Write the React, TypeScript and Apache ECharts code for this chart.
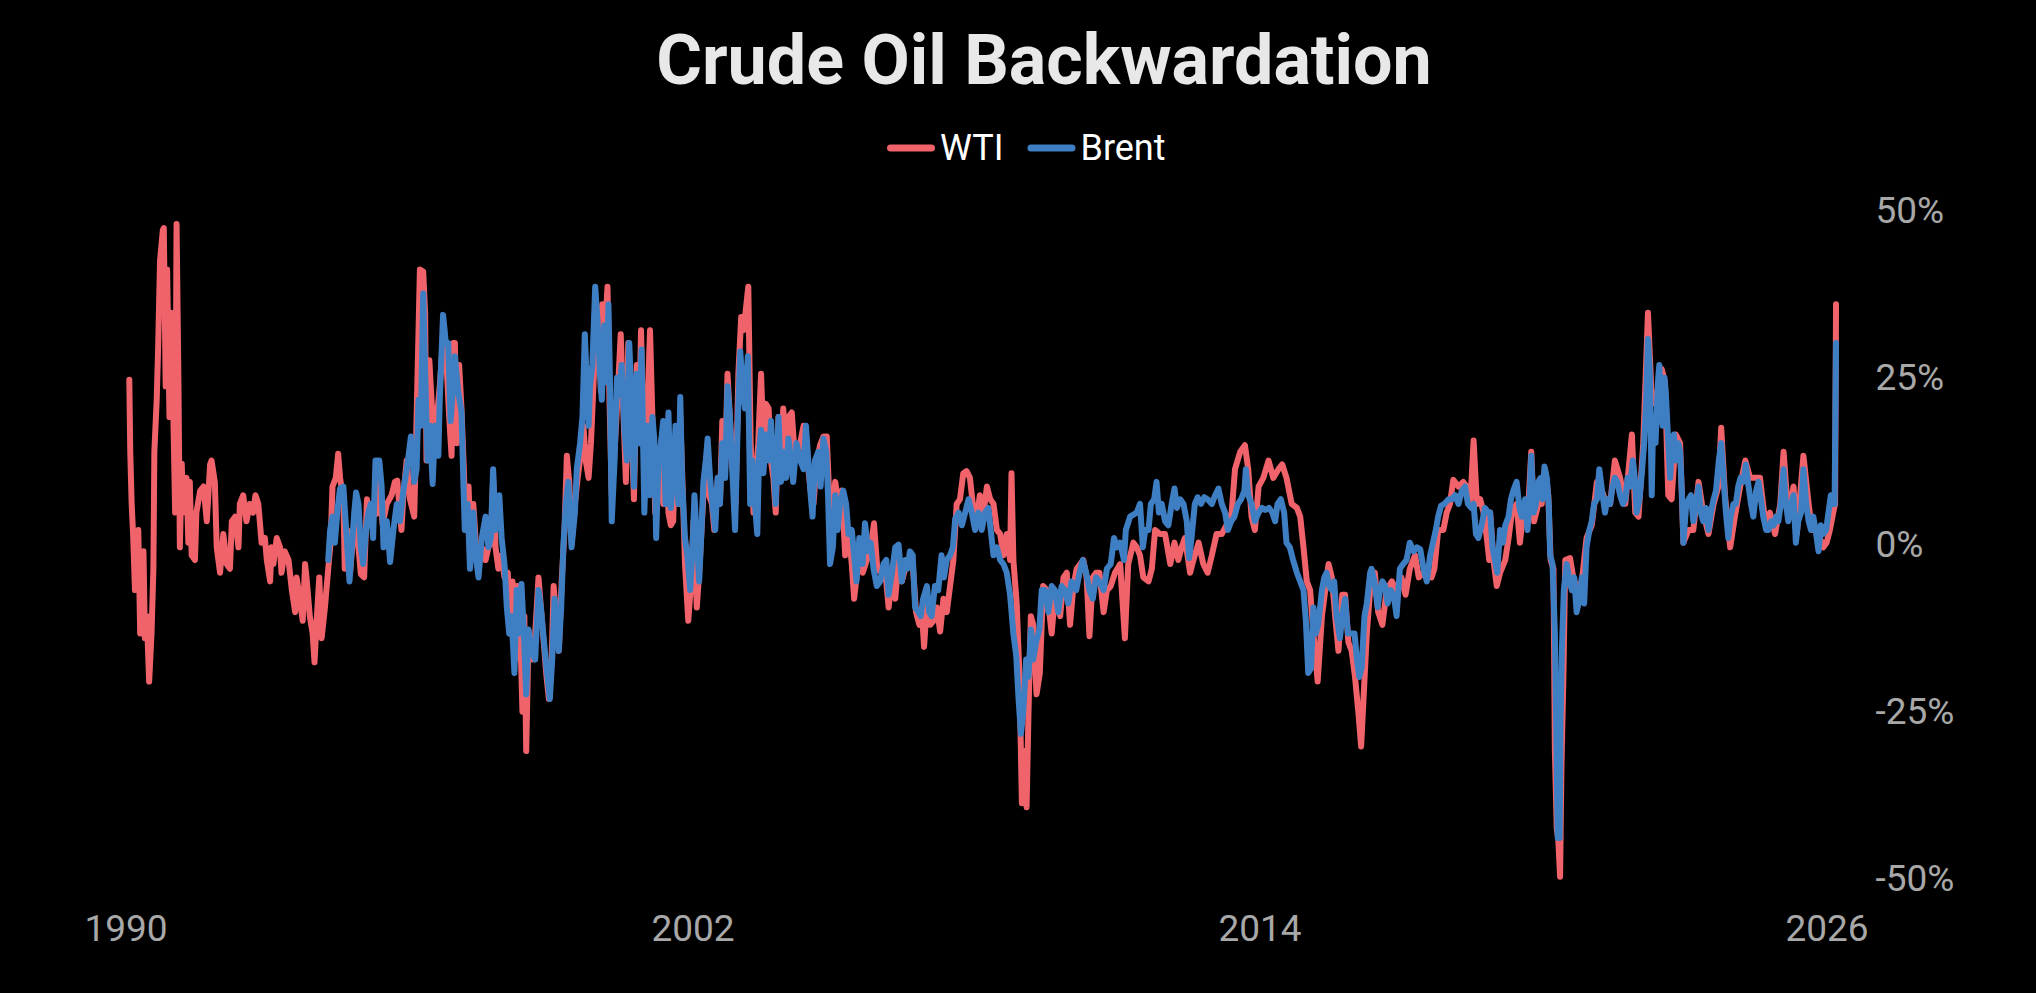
import React, { useEffect, useRef } from "react";
import * as echarts from "echarts";

const TITLE = "Crude Oil Backwardation";
const WTI_NAME = "WTI";
const BRENT_NAME = "Brent";
const X_TICK_YEARS = [1990, 2002, 2014, 2026];
const Y_MIN = -50;
const Y_MAX = 50;
const Y_STEP = 25;
const RED = "#F0636B";
const BLUE = "#3E7FC4";

// [decimal year, backwardation %]
const wti1990_1996: [number, number][] = [
  [1990.07,24.6],[1990.09,13.8],[1990.12,6.0],[1990.15,1.5],[1990.19,-6.9],[1990.26,2.1],[1990.30,-13.4],[1990.37,-1.1],[1990.40,-14.1],[1990.44,-10.8],[1990.49,-20.6],[1990.54,-13.4],[1990.58,-3.7],[1990.60,13.8],[1990.65,21.6],[1990.68,29.4],[1990.72,42.4],[1990.78,47.0],[1990.80,47.3],[1990.84,23.6],[1990.87,41.1],[1990.92,19.0],[1990.95,34.6],[1990.99,23.6],[1991.04,4.7],[1991.07,47.9],[1991.11,24.2],[1991.14,-0.5],[1991.18,12.0],[1991.21,4.7],[1991.28,9.9],[1991.32,0.2],[1991.35,9.3],[1991.39,-1.7],[1991.46,-2.4],[1991.49,4.7],[1991.57,8.0],[1991.64,8.6],[1991.71,3.4],[1991.78,11.9],[1991.81,12.5],[1991.88,9.3],[1991.92,-0.5],[1991.99,-4.3],[1992.06,1.5],[1992.13,-3.0],[1992.20,-3.7],[1992.24,3.4],[1992.31,4.1],[1992.38,-0.5],[1992.41,6.0],[1992.48,7.3],[1992.55,3.4],[1992.62,6.0],[1992.69,4.7],[1992.74,7.3],[1992.80,6.0],[1992.87,0.2],[1992.94,0.9],[1992.98,-2.4],[1993.05,-5.6],[1993.08,-0.5],[1993.12,-3.0],[1993.19,0.9],[1993.26,-0.5],[1993.29,-4.3],[1993.36,-1.1],[1993.44,-2.4],[1993.51,-6.9],[1993.58,-10.2],[1993.61,-5.0],[1993.68,-8.2],[1993.74,-11.5],[1993.79,-3.0],[1993.82,-5.0],[1993.89,-10.8],[1993.95,-13.4],[1993.99,-17.7],[1994.03,-12.1],[1994.09,-5.0],[1994.14,-14.1],[1994.21,-9.5],[1994.28,-3.7],[1994.33,0.2],[1994.37,8.6],[1994.44,9.9],[1994.49,13.5],[1994.53,9.9],[1994.60,6.7],[1994.63,-3.7],[1994.70,2.0],[1994.74,-4.5],[1994.83,3.0],[1994.90,1.0],[1994.97,-4.5],[1995.04,-5.0],[1995.10,6.7],[1995.15,3.4],[1995.23,6.0],[1995.30,4.5],[1995.36,10.0],[1995.43,3.0],[1995.52,6.0],[1995.62,7.3],[1995.69,9.3],[1995.74,9.5],[1995.83,2.1],[1995.87,7.3],[1995.94,12.5],[1996.01,6.7],[1996.10,4.1],[1996.15,19.0],[1996.22,41.1],[1996.29,40.8],[1996.33,34.6],[1996.36,12.5],[1996.42,27.5],[1996.47,21.0],[1996.51,16.4],[1996.58,19.0],[1996.64,23.6],[1996.71,30.7],[1996.77,28.8],[1996.84,19.0],[1996.89,13.2],[1996.93,30.1],
];
const wti1997_2004: [number, number][] = [
  [1996.96,30.1],[1997.00,15.1],[1997.05,26.8],[1997.10,20.3],[1997.15,11.2],[1997.19,2.1],[1997.25,8.6],[1997.30,-1.7],[1997.35,6.0],[1997.41,-0.5],[1997.46,-3.7],[1997.53,-0.5],[1997.61,-2.4],[1997.67,-0.5],[1997.72,0.2],[1997.77,9.9],[1997.82,-0.5],[1997.88,-3.7],[1997.95,-1.7],[1998.01,-5.0],[1998.08,-4.3],[1998.13,-13.4],[1998.18,-5.6],[1998.23,-17.3],[1998.28,-6.3],[1998.34,-12.1],[1998.39,-25.1],[1998.43,-10.8],[1998.47,-31.0],[1998.52,-13.4],[1998.59,-17.3],[1998.66,-13.4],[1998.73,-5.0],[1998.78,-9.5],[1998.84,-14.7],[1998.90,-19.9],[1998.95,-23.2],[1999.01,-16.7],[1999.05,-6.3],[1999.12,-12.8],[1999.16,-16.0],[1999.22,-5.6],[1999.28,2.1],[1999.33,13.2],[1999.38,9.3],[1999.43,0.2],[1999.50,6.0],[1999.56,9.9],[1999.63,13.8],[1999.68,17.7],[1999.73,12.5],[1999.79,9.9],[1999.84,15.1],[1999.88,21.6],[1999.93,30.1],[2000.00,35.3],[2000.05,22.9],[2000.08,35.9],[2000.14,32.0],[2000.19,38.5],[2000.23,22.3],[2000.28,7.3],[2000.35,15.1],[2000.41,22.9],[2000.47,31.4],[2000.53,19.0],[2000.58,9.3],[2000.63,30.1],[2000.69,19.0],[2000.75,6.7],[2000.81,26.8],[2000.86,17.7],[2000.90,32.0],[2000.95,15.1],[2001.00,11.2],[2001.06,25.5],[2001.09,32.0],[2001.14,19.0],[2001.20,4.7],[2001.25,12.5],[2001.30,13.8],[2001.37,6.0],[2001.42,17.7],[2001.48,4.7],[2001.53,2.8],[2001.58,3.4],[2001.63,15.1],[2001.69,6.0],[2001.73,19.0],[2001.78,8.6],[2001.83,-3.0],[2001.90,-11.5],[2001.96,-5.6],[2002.01,3.4],[2002.08,-9.5],[2002.13,-4.3],[2002.18,2.1],[2002.24,9.9],[2002.29,13.2],[2002.34,7.3],[2002.40,6.0],[2002.45,2.1],[2002.52,9.3],[2002.57,6.0],[2002.62,18.4],[2002.68,11.2],[2002.73,25.5],[2002.79,17.7],[2002.85,9.9],[2002.90,6.0],[2002.96,25.5],[2003.02,34.0],[2003.07,32.0],[2003.13,35.9],[2003.17,38.5],[2003.22,15.1],[2003.28,4.7],[2003.33,9.9],[2003.38,15.1],[2003.44,25.5],[2003.49,15.1],[2003.54,21.0],[2003.60,20.3],[2003.65,12.5],[2003.70,9.9],[2003.75,4.7],[2003.81,19.0],[2003.86,12.5],[2003.91,20.3],[2003.97,12.5],[2004.02,19.0],[2004.09,19.7],[2004.16,12.5],[2004.23,13.8],
];
const wti2004_2011: [number, number][] = [
  [2004.34,17.7],[2004.39,15.1],[2004.44,11.2],[2004.49,8.0],[2004.55,6.0],[2004.62,12.5],[2004.69,14.8],[2004.76,16.1],[2004.83,16.1],[2004.89,6.0],[2004.94,4.7],[2005.01,9.3],[2005.08,6.0],[2005.15,8.0],[2005.22,-1.7],[2005.29,2.1],[2005.36,-3.0],[2005.41,-8.2],[2005.46,-5.0],[2005.52,-1.7],[2005.59,-4.3],[2005.68,-2.4],[2005.76,-0.5],[2005.83,3.1],[2005.90,-3.7],[2005.99,-4.3],[2006.09,-5.6],[2006.14,-9.5],[2006.21,-5.0],[2006.28,-8.2],[2006.35,-2.4],[2006.42,-5.6],[2006.49,-3.7],[2006.56,-2.4],[2006.65,-3.0],[2006.72,-10.2],[2006.79,-12.1],[2006.85,-10.8],[2006.89,-15.4],[2006.95,-8.9],[2007.02,-12.1],[2007.09,-11.5],[2007.16,-9.5],[2007.23,-13.1],[2007.30,-8.2],[2007.37,-10.2],[2007.44,-6.3],[2007.51,-2.4],[2007.58,6.0],[2007.65,6.7],[2007.72,10.6],[2007.79,10.9],[2007.86,9.9],[2007.93,5.4],[2008.00,3.4],[2008.07,7.3],[2008.15,4.7],[2008.22,8.6],[2008.29,6.7],[2008.36,6.0],[2008.43,2.1],[2008.50,1.5],[2008.57,-1.7],[2008.64,1.5],[2008.71,-2.4],[2008.74,10.6],[2008.78,-2.4],[2008.85,-8.9],[2008.91,-19.9],[2008.96,-38.8],[2009.01,-31.0],[2009.06,-39.4],[2009.10,-25.1],[2009.15,-10.8],[2009.20,-12.1],[2009.27,-22.5],[2009.34,-19.3],[2009.41,-6.3],[2009.49,-6.9],[2009.59,-13.4],[2009.66,-7.6],[2009.77,-10.8],[2009.84,-5.0],[2009.91,-4.3],[2009.98,-12.1],[2010.05,-6.3],[2010.12,-3.7],[2010.26,-2.4],[2010.33,-5.0],[2010.39,-13.8],[2010.46,-5.0],[2010.53,-4.3],[2010.60,-4.3],[2010.69,-10.2],[2010.76,-6.9],[2010.84,-6.3],[2010.93,-4.3],[2011.04,-3.0],[2011.14,-14.1],[2011.21,-3.0],[2011.32,0.2],[2011.39,-0.5],[2011.46,-1.7],[2011.53,-5.0],
];
const wti2011_2018: [number, number][] = [
  [2011.64,-5.6],[2011.71,-3.7],[2011.78,2.1],[2011.88,1.5],[2011.99,1.5],[2012.10,-3.0],[2012.19,0.2],[2012.27,-2.4],[2012.34,-0.5],[2012.41,0.9],[2012.52,-4.3],[2012.59,-2.4],[2012.70,0.2],[2012.80,-3.0],[2012.89,-4.3],[2012.98,-1.7],[2013.08,1.5],[2013.19,1.5],[2013.29,2.8],[2013.40,4.7],[2013.47,11.2],[2013.58,13.8],[2013.68,14.8],[2013.75,11.2],[2013.82,4.1],[2013.89,2.1],[2013.97,8.6],[2014.07,9.9],[2014.18,12.5],[2014.28,9.9],[2014.39,11.2],[2014.47,11.9],[2014.56,9.9],[2014.67,6.0],[2014.78,5.4],[2014.85,4.1],[2014.92,-0.5],[2014.99,-5.6],[2015.06,-6.9],[2015.13,-13.4],[2015.22,-20.6],[2015.31,-10.8],[2015.38,-6.9],[2015.45,-3.0],[2015.52,-5.0],[2015.59,-10.8],[2015.66,-16.0],[2015.74,-7.6],[2015.80,-7.6],[2015.87,-14.7],[2015.94,-16.0],[2016.01,-19.9],[2016.08,-25.1],[2016.14,-30.3],[2016.19,-23.2],[2016.26,-13.4],[2016.33,-6.9],[2016.43,-4.3],[2016.50,-10.2],[2016.59,-12.1],[2016.68,-6.9],[2016.79,-5.6],[2016.89,-6.9],[2016.99,-5.0],[2017.08,-7.6],[2017.17,-3.7],[2017.28,-1.7],[2017.36,-5.0],[2017.46,-4.3],[2017.55,-4.3],[2017.63,-5.0],[2017.69,-3.7],[2017.77,2.1],[2017.88,2.1],[2017.95,4.7],[2018.02,6.0],[2018.09,9.6],[2018.20,8.6],[2018.30,9.3],[2018.37,8.6],[2018.45,6.0],[2018.52,15.5],[2018.59,6.0],[2018.66,6.7],[2018.73,4.7],[2018.80,0.9],[2018.85,-2.4],
];
const wti2019_2026: [number, number][] = [
  [2018.87,4.7],[2018.94,-2.4],[2019.01,-6.3],[2019.08,-4.3],[2019.19,-2.4],[2019.26,0.9],[2019.33,4.7],[2019.43,6.0],[2019.50,0.2],[2019.57,4.7],[2019.68,6.0],[2019.74,13.8],[2019.80,3.4],[2019.89,6.0],[2019.96,6.0],[2020.03,11.2],[2020.10,7.3],[2020.15,-2.4],[2020.21,-3.7],[2020.24,-31.0],[2020.28,-42.7],[2020.31,-44.0],[2020.35,-49.8],[2020.38,-32.9],[2020.42,-19.9],[2020.46,-2.4],[2020.56,-2.1],[2020.63,-5.0],[2020.72,-6.9],[2020.81,-5.6],[2020.91,0.9],[2021.02,2.8],[2021.13,9.3],[2021.20,8.6],[2021.30,6.7],[2021.41,6.0],[2021.51,12.5],[2021.62,9.9],[2021.73,6.0],[2021.80,11.2],[2021.87,16.4],[2021.94,4.7],[2022.01,4.1],[2022.11,15.1],[2022.17,26.8],[2022.21,34.6],[2022.29,21.6],[2022.36,21.0],[2022.43,23.6],[2022.50,26.2],[2022.57,24.2],[2022.64,7.3],[2022.71,6.7],[2022.80,16.4],[2022.89,15.1],[2022.96,0.2],[2023.07,2.1],[2023.17,2.1],[2023.28,9.3],[2023.38,4.7],[2023.49,1.5],[2023.60,6.0],[2023.70,8.6],[2023.76,17.4],[2023.84,7.3],[2023.95,-0.5],[2024.05,4.1],[2024.16,8.6],[2024.27,12.5],[2024.37,9.9],[2024.48,9.9],[2024.58,9.9],[2024.69,3.4],[2024.79,4.7],[2024.90,1.5],[2025.01,6.0],[2025.08,13.8],[2025.18,4.1],[2025.29,8.6],[2025.36,1.5],[2025.43,7.3],[2025.50,13.2],[2025.61,6.0],[2025.68,2.1],[2025.75,2.1],[2025.85,0.9],[2025.92,-0.5],[2025.99,0.2],[2026.06,2.1],[2026.13,4.7],[2026.17,6.0],[2026.19,35.9],
];

const brent1994_1996: [number, number][] = [
  [1994.28,-2.4],[1994.32,2.1],[1994.37,4.1],[1994.42,0.2],[1994.48,5.4],[1994.53,8.3],[1994.60,8.6],[1994.66,2.1],[1994.73,-5.6],[1994.78,-0.5],[1994.83,4.7],[1994.87,7.7],[1994.92,6.0],[1994.97,-0.5],[1995.02,-3.0],[1995.08,2.1],[1995.13,4.7],[1995.18,6.0],[1995.23,0.9],[1995.28,12.5],[1995.36,12.5],[1995.41,8.6],[1995.45,-0.5],[1995.52,3.4],[1995.59,-2.7],[1995.66,2.1],[1995.73,6.0],[1995.80,3.4],[1995.87,8.0],[1995.94,11.2],[1995.99,13.8],[1996.03,16.1],[1996.10,9.3],[1996.15,11.2],[1996.19,21.6],[1996.24,17.7],[1996.29,37.5],[1996.33,26.2],[1996.38,12.5],[1996.43,17.7],[1996.49,9.0],[1996.54,17.7],[1996.61,13.2],[1996.64,21.6],[1996.71,34.3],[1996.77,30.1],[1996.82,30.1],[1996.87,18.4],[1996.93,24.2],
];
const brent1997_2004: [number, number][] = [
  [1996.96,28.1],[1997.03,22.9],[1997.10,19.7],[1997.14,9.3],[1997.17,2.1],[1997.23,6.0],[1997.28,-3.7],[1997.35,4.7],[1997.40,-1.7],[1997.46,-5.0],[1997.53,0.9],[1997.61,4.1],[1997.67,-0.5],[1997.72,0.9],[1997.77,11.2],[1997.82,2.1],[1997.90,7.3],[1997.95,0.9],[1998.01,-3.0],[1998.06,-9.5],[1998.11,-13.4],[1998.16,-10.8],[1998.22,-19.3],[1998.27,-6.9],[1998.32,-13.4],[1998.37,-6.0],[1998.42,-13.4],[1998.47,-22.5],[1998.52,-12.8],[1998.59,-16.0],[1998.66,-17.3],[1998.73,-6.9],[1998.78,-9.5],[1998.83,-13.4],[1998.90,-18.6],[1998.97,-23.2],[1999.02,-17.3],[1999.07,-8.2],[1999.12,-13.4],[1999.16,-16.0],[1999.21,-9.5],[1999.26,0.2],[1999.31,6.0],[1999.36,9.3],[1999.43,-0.5],[1999.50,4.7],[1999.54,11.2],[1999.61,15.1],[1999.66,19.0],[1999.71,31.4],[1999.79,17.7],[1999.82,23.6],[1999.87,26.8],[1999.93,38.5],[1999.98,33.3],[2000.03,25.5],[2000.07,21.6],[2000.12,32.7],[2000.17,24.2],[2000.21,35.9],[2000.24,25.5],[2000.28,3.4],[2000.34,12.5],[2000.39,24.9],[2000.43,22.3],[2000.49,26.8],[2000.55,17.1],[2000.60,12.5],[2000.65,30.1],[2000.70,21.6],[2000.75,8.6],[2000.81,25.5],[2000.86,15.1],[2000.91,29.1],[2000.97,4.7],[2001.03,17.7],[2001.08,7.3],[2001.14,19.0],[2001.18,15.8],[2001.22,0.9],[2001.27,12.5],[2001.32,15.1],[2001.37,18.4],[2001.42,6.0],[2001.48,19.7],[2001.53,5.4],[2001.58,9.9],[2001.63,17.7],[2001.69,6.0],[2001.73,22.0],[2001.77,9.3],[2001.83,0.9],[2001.88,-1.7],[2001.94,-6.9],[2001.99,-0.5],[2002.03,7.3],[2002.08,0.9],[2002.13,-5.6],[2002.18,2.1],[2002.22,9.3],[2002.27,12.5],[2002.31,15.8],[2002.36,9.9],[2002.41,6.0],[2002.47,2.1],[2002.52,9.9],[2002.57,6.0],[2002.62,15.1],[2002.68,9.9],[2002.73,23.6],[2002.78,19.0],[2002.83,11.2],[2002.89,2.1],[2002.95,19.0],[2003.00,28.8],[2003.05,23.6],[2003.10,20.3],[2003.16,28.1],[2003.21,6.0],[2003.26,12.5],[2003.31,6.0],[2003.36,1.5],[2003.40,13.8],[2003.44,17.1],[2003.49,10.6],[2003.54,16.4],[2003.60,12.5],[2003.65,18.4],[2003.70,12.5],[2003.75,6.0],[2003.81,19.0],[2003.86,9.3],[2003.91,13.8],[2003.97,9.9],[2004.02,15.8],[2004.07,12.5],[2004.12,9.3],[2004.19,15.1],[2004.27,12.5],
];
const brent2004_2011: [number, number][] = [
  [2004.34,11.2],[2004.39,17.7],[2004.44,12.5],[2004.49,7.3],[2004.53,4.1],[2004.58,12.5],[2004.65,13.8],[2004.70,8.6],[2004.76,15.8],[2004.82,13.8],[2004.86,6.7],[2004.90,-3.0],[2004.96,-0.5],[2005.01,7.3],[2005.06,2.1],[2005.11,6.0],[2005.18,8.0],[2005.24,6.0],[2005.29,1.5],[2005.36,2.1],[2005.41,-1.7],[2005.46,-5.6],[2005.52,0.9],[2005.59,-3.0],[2005.64,3.1],[2005.71,-1.1],[2005.76,0.2],[2005.82,-3.7],[2005.89,-6.3],[2005.96,-5.6],[2006.03,-3.0],[2006.09,-2.4],[2006.14,-7.6],[2006.21,-4.3],[2006.28,-0.5],[2006.35,-0.1],[2006.42,-5.6],[2006.49,-2.4],[2006.54,-3.7],[2006.59,-1.1],[2006.65,-1.7],[2006.70,-9.5],[2006.77,-10.2],[2006.82,-10.8],[2006.87,-8.2],[2006.95,-6.3],[2007.00,-10.2],[2007.05,-10.8],[2007.12,-6.3],[2007.19,-6.9],[2007.26,-1.7],[2007.31,-5.0],[2007.37,-2.4],[2007.44,-1.7],[2007.50,-0.5],[2007.55,3.8],[2007.62,4.7],[2007.69,2.8],[2007.76,4.7],[2007.83,6.7],[2007.90,4.7],[2007.97,2.1],[2008.04,4.7],[2008.11,2.1],[2008.18,4.7],[2008.25,5.4],[2008.30,2.1],[2008.36,-1.7],[2008.43,-0.5],[2008.50,-2.4],[2008.57,-3.0],[2008.64,-4.3],[2008.71,-7.6],[2008.78,-13.4],[2008.84,-16.7],[2008.89,-23.2],[2008.94,-28.4],[2008.99,-25.1],[2009.05,-17.3],[2009.10,-19.9],[2009.15,-12.8],[2009.20,-17.3],[2009.26,-14.7],[2009.33,-12.8],[2009.38,-6.9],[2009.45,-6.9],[2009.52,-10.2],[2009.59,-6.3],[2009.66,-6.9],[2009.73,-10.2],[2009.80,-6.3],[2009.87,-6.9],[2009.94,-8.9],[2010.01,-5.6],[2010.11,-6.9],[2010.18,-4.3],[2010.25,-2.4],[2010.32,-4.3],[2010.39,-6.9],[2010.46,-8.2],[2010.53,-5.0],[2010.60,-5.6],[2010.69,-6.9],[2010.76,-3.7],[2010.84,-3.0],[2010.91,0.9],[2010.97,-0.5],[2011.04,0.2],[2011.12,-2.4],[2011.16,2.1],[2011.25,4.1],[2011.32,4.4],[2011.39,4.7],[2011.46,6.0],[2011.52,-0.5],[2011.57,2.1],
];
const brent2011_2018: [number, number][] = [
  [2011.64,2.1],[2011.69,6.0],[2011.76,6.7],[2011.81,9.3],[2011.86,4.7],[2011.92,6.0],[2011.99,3.4],[2012.06,2.8],[2012.13,6.0],[2012.19,8.3],[2012.24,5.4],[2012.31,6.7],[2012.38,6.0],[2012.45,3.4],[2012.50,-2.1],[2012.55,0.9],[2012.62,6.0],[2012.68,7.0],[2012.75,6.0],[2012.82,7.0],[2012.89,6.7],[2012.98,6.0],[2013.05,7.3],[2013.12,8.3],[2013.19,6.0],[2013.26,4.7],[2013.32,2.1],[2013.39,3.4],[2013.46,4.1],[2013.53,6.0],[2013.60,6.7],[2013.67,8.0],[2013.70,11.2],[2013.75,7.3],[2013.82,6.0],[2013.89,3.4],[2013.97,4.7],[2014.04,5.4],[2014.11,5.1],[2014.19,5.4],[2014.26,4.7],[2014.32,3.4],[2014.37,6.0],[2014.44,6.7],[2014.51,4.7],[2014.56,0.2],[2014.63,-0.5],[2014.70,-2.4],[2014.78,-4.3],[2014.85,-5.6],[2014.92,-6.9],[2014.97,-11.5],[2015.02,-19.3],[2015.08,-18.6],[2015.13,-9.5],[2015.18,-13.4],[2015.23,-12.1],[2015.31,-6.9],[2015.36,-5.0],[2015.41,-4.3],[2015.46,-6.3],[2015.52,-6.9],[2015.57,-5.6],[2015.62,-10.8],[2015.69,-14.1],[2015.75,-10.2],[2015.80,-8.2],[2015.86,-13.4],[2015.93,-13.4],[2016.00,-13.4],[2016.05,-17.3],[2016.10,-19.9],[2016.15,-18.6],[2016.21,-10.8],[2016.26,-8.9],[2016.33,-4.3],[2016.36,-3.7],[2016.42,-5.6],[2016.49,-9.5],[2016.54,-6.9],[2016.59,-5.6],[2016.65,-6.3],[2016.70,-8.9],[2016.77,-6.9],[2016.84,-8.2],[2016.89,-10.8],[2016.96,-3.7],[2017.03,-3.0],[2017.10,-2.4],[2017.17,0.2],[2017.25,-1.1],[2017.32,-0.5],[2017.39,-0.8],[2017.46,-3.7],[2017.53,-5.6],[2017.60,-1.7],[2017.67,0.5],[2017.72,2.1],[2017.77,4.1],[2017.83,5.7],[2017.90,6.0],[2017.99,6.7],[2018.06,6.7],[2018.13,7.3],[2018.20,6.0],[2018.27,8.0],[2018.34,8.6],[2018.40,6.0],[2018.47,5.4],[2018.52,6.0],[2018.57,1.5],[2018.62,0.9],[2018.69,2.8],[2018.76,5.4],[2018.83,4.7],
];
const brent2019_2026: [number, number][] = [
  [2018.87,4.7],[2018.92,-0.5],[2018.97,-2.4],[2019.02,-4.3],[2019.08,2.1],[2019.14,0.2],[2019.19,2.8],[2019.26,4.1],[2019.31,6.7],[2019.36,8.0],[2019.43,9.3],[2019.49,5.4],[2019.54,4.1],[2019.61,6.7],[2019.66,2.1],[2019.70,6.0],[2019.74,13.2],[2019.79,4.7],[2019.84,6.0],[2019.89,9.3],[2019.94,9.9],[2019.98,6.7],[2020.02,11.6],[2020.07,9.9],[2020.11,6.0],[2020.14,-1.7],[2020.19,-3.0],[2020.24,-13.4],[2020.28,-32.9],[2020.30,-44.0],[2020.34,-44.0],[2020.36,-26.4],[2020.39,-15.4],[2020.43,-6.9],[2020.49,-3.0],[2020.55,-5.6],[2020.60,-6.9],[2020.65,-5.0],[2020.70,-10.2],[2020.76,-8.2],[2020.81,-5.0],[2020.86,-8.9],[2020.91,-0.5],[2020.97,2.1],[2021.02,3.4],[2021.07,6.0],[2021.13,6.7],[2021.18,11.2],[2021.25,7.3],[2021.30,4.7],[2021.35,6.7],[2021.41,6.0],[2021.46,8.6],[2021.51,9.9],[2021.56,9.3],[2021.62,7.3],[2021.68,6.0],[2021.73,6.7],[2021.78,9.9],[2021.83,8.6],[2021.89,12.5],[2021.94,9.3],[2021.97,4.7],[2022.03,6.7],[2022.08,10.6],[2022.13,15.1],[2022.17,21.0],[2022.21,30.7],[2022.25,25.5],[2022.29,7.3],[2022.32,19.0],[2022.37,15.1],[2022.42,24.2],[2022.45,26.8],[2022.49,20.3],[2022.52,17.7],[2022.56,24.9],[2022.59,22.3],[2022.64,15.1],[2022.68,9.9],[2022.72,15.1],[2022.76,16.4],[2022.80,12.5],[2022.85,15.1],[2022.89,13.8],[2022.93,7.3],[2022.96,0.2],[2023.02,6.0],[2023.07,6.7],[2023.12,7.3],[2023.17,3.4],[2023.23,6.0],[2023.28,8.6],[2023.33,4.7],[2023.38,3.4],[2023.44,5.4],[2023.49,2.1],[2023.54,4.7],[2023.60,6.7],[2023.65,8.0],[2023.71,12.5],[2023.76,15.1],[2023.81,9.9],[2023.86,4.7],[2023.91,0.9],[2023.96,4.1],[2024.02,6.0],[2024.07,6.0],[2024.12,8.6],[2024.17,9.9],[2024.23,9.3],[2024.28,11.9],[2024.34,8.6],[2024.39,6.0],[2024.44,4.1],[2024.50,8.0],[2024.55,9.3],[2024.60,6.7],[2024.65,4.1],[2024.71,2.1],[2024.76,2.1],[2024.82,3.4],[2024.87,2.8],[2024.92,4.1],[2024.97,3.4],[2025.02,6.0],[2025.08,11.2],[2025.13,6.0],[2025.18,3.4],[2025.24,6.0],[2025.29,7.3],[2025.34,0.2],[2025.39,3.4],[2025.45,4.7],[2025.50,11.2],[2025.56,6.0],[2025.61,3.4],[2025.66,2.1],[2025.71,4.1],[2025.77,1.5],[2025.82,-1.1],[2025.87,2.8],[2025.92,1.5],[2025.98,2.1],[2026.03,4.7],[2026.08,7.3],[2026.12,6.0],[2026.16,6.0],[2026.19,30.1],
];

const WTI = [...wti1990_1996, ...wti1997_2004, ...wti2004_2011, ...wti2011_2018, ...wti2019_2026];
const BRENT = [...brent1994_1996, ...brent1997_2004, ...brent2004_2011, ...brent2011_2018, ...brent2019_2026];

const FONT = "Roboto, 'Noto Sans', sans-serif";

export default function App() {
  const ref = useRef<HTMLDivElement>(null);
  useEffect(() => {
    if (!ref.current) return;
    const chart = echarts.init(ref.current, null, { renderer: "svg" });
    const lineSeries = (name: string, data: [number, number][], color: string, z: number) => ({
      name,
      type: "line",
      data,
      showSymbol: false,
      symbol: "none",
      silent: true,
      z,
      itemStyle: { color },
      lineStyle: { color, width: 6, cap: "round", join: "round" },
      emphasis: { disabled: true },
    });
    chart.setOption({
      animation: false,
      backgroundColor: "#000000",
      textStyle: { fontFamily: FONT },
      graphic: [
        {
          type: "text",
          x: 1044,
          y: 60,
          style: {
            text: TITLE,
            fill: "#e8e8e8",
            fontSize: 70,
            fontWeight: "bold",
            fontFamily: FONT,
            align: "center",
            verticalAlign: "middle",
          },
        },
      ],
      legend: {
        data: [WTI_NAME, BRENT_NAME],
        left: 882,
        top: 125,
        itemWidth: 48,
        itemHeight: 7,
        itemGap: 24,
        icon: "path://M3.5 0H44.5A3.5 3.5 0 0 1 44.5 7H3.5A3.5 3.5 0 0 1 3.5 0Z",
        textStyle: { color: "#ffffff", fontSize: 36, fontFamily: FONT },
        selectedMode: false,
      },
      grid: { left: 126, right: 199.5, top: 210, bottom: 115, outerBoundsMode: "none" },
      xAxis: {
        type: "value",
        min: 1990,
        max: 2026.2,
        axisLine: { show: false },
        axisTick: { show: false },
        splitLine: { show: false },
        axisLabel: {
          customValues: X_TICK_YEARS,
          color: "#a8a8a8",
          fontSize: 37,
          margin: 32,
          fontFamily: FONT,
          formatter: (v: number) => String(Math.round(v)),
        },
      },
      yAxis: {
        type: "value",
        position: "right",
        min: Y_MIN,
        max: Y_MAX,
        interval: Y_STEP,
        axisLine: { show: false },
        axisTick: { show: false },
        splitLine: { show: false },
        axisLabel: {
          color: "#a8a8a8",
          fontSize: 37,
          margin: 39,
          fontFamily: FONT,
          formatter: (v: number) => `${v}%`,
        },
      },
      series: [lineSeries(WTI_NAME, WTI, RED, 2), lineSeries(BRENT_NAME, BRENT, BLUE, 3)],
    });
    return () => chart.dispose();
  }, []);
  return (
    <div
      ref={ref}
      style={{ position: "absolute", left: 0, top: 0, width: 2036, height: 993 }}
    />
  );
}
